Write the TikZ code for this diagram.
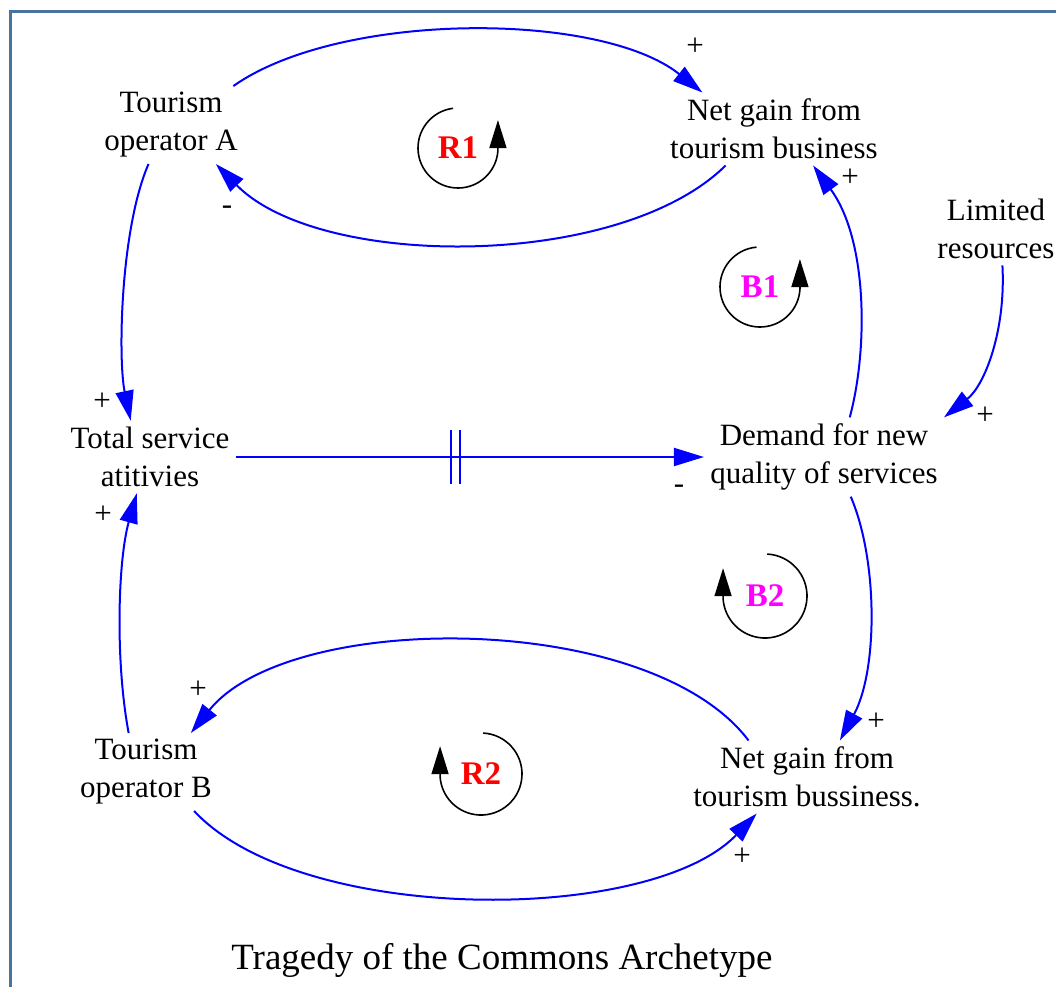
\documentclass[tikz,border=0pt]{standalone}
\usepackage{fontspec}
\setmainfont{Liberation Serif}
\usepackage{tikz}
\usetikzlibrary{arrows.meta, positioning, calc}
\definecolor{linkblue}{RGB}{0, 0, 255}
\definecolor{loopred}{RGB}{255, 0, 0}
\definecolor{loopmagenta}{RGB}{255, 0, 255}
\definecolor{framesteel}{RGB}{72, 114, 160}
\tikzset{
  >=Stealth,
  factorbox/.style={align=center, inner sep=3pt, font=\fontsize{15.5}{19}\selectfont},
  polarity/.style={inner sep=0pt, font=\fontsize{15.5}{19}\selectfont},
  causal/.style={-{Triangle[length=15pt, width=9pt]}, line width=1pt, linkblue},
  delaymark/.style={line width=1pt, linkblue},
  loopline/.style={-{Triangle[length=14pt, width=8.5pt]}, line width=0.8pt, black},
  looplabel/.style={font=\fontsize{16.5}{20}\selectfont\bfseries, inner sep=0pt}
}

\begin{document}
\begin{tikzpicture}[x=0.5pt, y=0.5pt]
    \useasboundingbox (0,0) rectangle (1056,-987);
    \draw[line width=1.5pt, framesteel] (10,-987) -- (10,-11) -- (1056,-11);

    % variables
    \node (opA) [factorbox] at (171,-125) {Tourism\\operator A};
    \node (gainA) [factorbox] at (774,-129) {Net gain from\\tourism business};
    \node (limits) [factorbox] at (996,-229) {Limited\\resources};
    \node (service) [factorbox] at (150,-457) {Total service\\atitivies};
    \node (demand) [factorbox] at (824,-457) {Demand for new\\quality of services};
    \node (opB) [factorbox] at (146,-772) {Tourism\\operator B};
    \node (gainB) [factorbox] at (807,-777) {Net gain from\\tourism bussiness.};
    \node (title) [font=\fontsize{18.5}{22}\selectfont] at (502,-960) {Tragedy of the Commons Archetype};

    % links
    \draw[causal] (opA.32) .. controls (340,-11) and (600,-11) .. (gainA.153);
    \draw[causal] (gainA.217) .. controls (620,-270) and (320,-270) .. (opA.-41);
    \draw[causal] (opA.240) .. controls (120,-230) and (118,-360) .. (service.118);
    \draw[causal] (service) -- coordinate[pos=0.47] (lag) (demand);
    \draw[delaymark] ($(lag)+(-4.5,27)$) -- ($(lag)+(-4.5,-27)$);
    \draw[delaymark] ($(lag)+(4.5,27)$) -- ($(lag)+(4.5,-27)$);
    \draw[causal] (demand.57) .. controls (868,-350) and (868,-240) .. (gainA.-43);
    \draw[causal] (limits.-80) .. controls (1006,-330) and (985,-385) .. (demand.north east);
    \draw[causal] (demand.-56) .. controls (878,-560) and (878,-670) .. (gainB.48);
    \draw[causal] (gainB.148) .. controls (650,-610) and (290,-610) .. (opB.41);
    \draw[causal] (opB.114) .. controls (115,-660) and (118,-560) .. (service.250);
    \draw[causal] (opB.-39) .. controls (300,-925) and (650,-925) .. (gainB.216);

    % polarities
    \node (sgnAgain) [polarity] at (695,-47) {+};
    \node (sgngainA) [polarity] at (227,-210) {-};
    \node (sgnAserv) [polarity] at (102,-402) {+};
    \node (sgnservdem) [polarity] at (679,-489) {-};
    \node (sgndemgainA) [polarity] at (850,-178) {+};
    \node (sgnlimdem) [polarity] at (985,-416) {+};
    \node (sgndemgainB) [polarity] at (876,-722) {+};
    \node (sgngainB) [polarity] at (198,-690) {+};
    \node (sgnBserv) [polarity] at (103,-515) {+};
    \node (sgnBgain) [polarity] at (742,-857) {+};

    % loops
    \node (R1) [looplabel, text=loopred] at (458,-148) {R1};
    \draw[loopline] ([shift={(97:40)}]R1.center) arc[start angle=97, end angle=357, radius=40] -- ++(0,30);
    \node (B1) [looplabel, text=loopmagenta] at (760,-287) {B1};
    \draw[loopline] ([shift={(95:40)}]B1.center) arc[start angle=95, end angle=357, radius=40] -- ++(0,30);
    \node (B2) [looplabel, text=loopmagenta] at (765,-596) {B2};
    \draw[loopline] ([shift={(87:42)}]B2.center) arc[start angle=87, end angle=-177, radius=42] -- ++(0,30);
    \node (R2) [looplabel, text=loopred] at (481,-774) {R2};
    \draw[loopline] ([shift={(87:41)}]R2.center) arc[start angle=87, end angle=-177, radius=41] -- ++(0,30);
\end{tikzpicture}
\end{document}
